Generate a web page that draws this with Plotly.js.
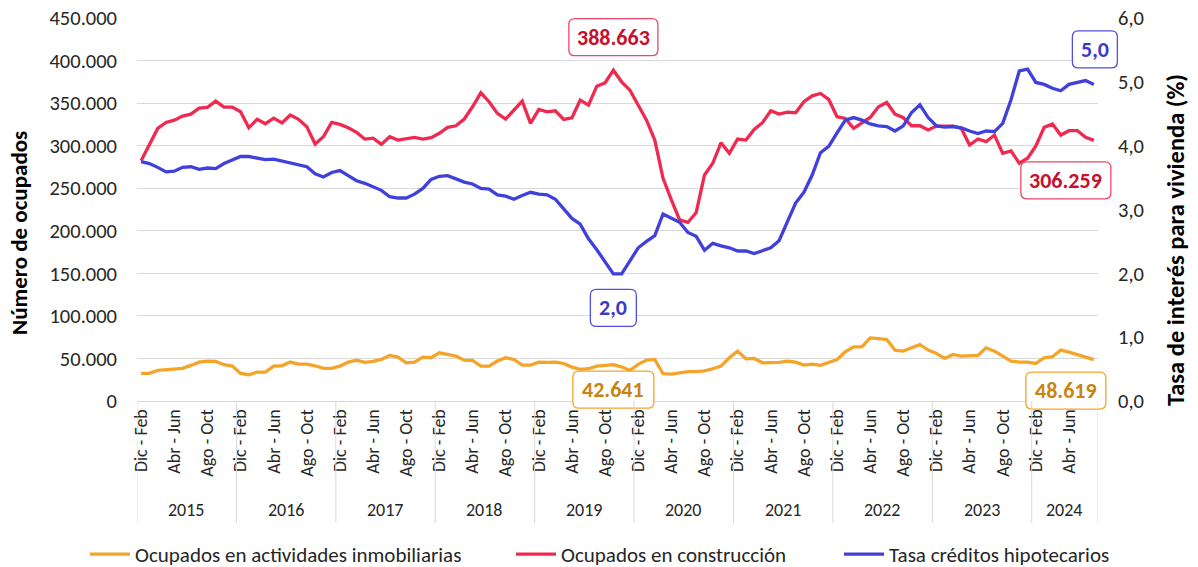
<!DOCTYPE html>
<html>
<head>
<meta charset="utf-8">
<script src="https://cdn.plot.ly/plotly-3.0.1.min.js"></script>
<style>html,body{margin:0;padding:0;background:#fff;}#chart{width:1198px;height:567px;}</style>
</head>
<body>
<div id="chart"></div>
<script>
// ---- Data ----
const monthLabels = ['Dic - Feb','Ene - Mar','Feb - Abr','Mar - May','Abr - Jun','May - Jul','Jun - Ago','Jul - Sep','Ago - Oct','Sep - Nov','Oct - Dic','Nov - Ene'];
const years = ['2015','2016','2017','2018','2019','2020','2021','2022','2023','2024'];
const monthsPerYear = [12,12,12,12,12,12,12,12,12,8];

const inmobiliarias = [
  32400, 32400, 35900, 36700, 37900, 38300, 41800, 45700, 46900, 46500, 42600, 41000,
  32400, 30900, 34000, 34000, 41000, 41400, 45700, 43400, 43400, 41400, 38300, 38300,
  41000, 45700, 48000, 45300, 46500, 48800, 53500, 51600, 44900, 45700, 51600, 50800,
  56600, 54700, 52700, 48000, 47700, 41000, 41000, 46900, 50800, 48800, 42200, 42200,
  45700, 45300, 45700, 44100, 39800, 37100, 37900, 41000, 41800, 42641, 40200, 35900,
  43000, 48000, 48800, 32000, 31600, 33200, 34400, 34400, 35500, 37900, 41000, 50800,
  58600, 49600, 50000, 44900, 45300, 45300, 46900, 45700, 42200, 43400, 41800, 45700,
  48800, 57800, 63700, 63700, 74200, 73400, 72300, 59800, 58600, 62500, 66400, 59800,
  55900, 50000, 54700, 52700, 52700, 53500, 62500, 58600, 52700, 46900, 45700, 45700,
  44100, 50800, 52000, 59800, 57400, 54700, 52000, 48619
];
const construccion = [
  282400, 301000, 320300, 327300, 330000, 334800, 337000, 344000, 345000, 352300, 345300, 345300,
  339800, 321000, 331000, 325800, 332400, 326600, 336000, 331000, 322300, 302000, 310500, 327300,
  325000, 321000, 315600, 307800, 308800, 301500, 310500, 306600, 307800, 309800, 307800, 309400,
  314500, 321500, 323400, 331300, 345700, 362100, 351600, 337900, 331300, 341800, 352300, 326200,
  342600, 339800, 341000, 330900, 332800, 353500, 347700, 369900, 373800, 388663, 375000, 365200,
  347700, 330000, 306600, 261700, 236300, 212900, 209800, 221500, 265600, 279300, 303500, 291000,
  307800, 306600, 319100, 327000, 341000, 337100, 339500, 338700, 351600, 358600, 361300, 354300,
  334000, 332000, 320300, 326200, 333200, 345700, 350800, 337100, 332800, 323400, 323400, 318400,
  323000, 323000, 323000, 320300, 300800, 307800, 304700, 312500, 291000, 293800, 279300, 285200,
  299600, 321500, 325400, 312500, 317600, 317600, 309800, 306259
];
const tasaHipotecaria = [
  3.75, 3.72, 3.66, 3.59, 3.60, 3.66, 3.67, 3.63, 3.65, 3.64, 3.72, 3.77,
  3.83, 3.83, 3.80, 3.78, 3.79, 3.76, 3.73, 3.71, 3.67, 3.56, 3.51, 3.58,
  3.61, 3.53, 3.45, 3.41, 3.35, 3.30, 3.20, 3.18, 3.18, 3.24, 3.33, 3.47,
  3.52, 3.53, 3.48, 3.43, 3.40, 3.33, 3.32, 3.23, 3.21, 3.16, 3.22, 3.27,
  3.24, 3.23, 3.16, 3.01, 2.86, 2.77, 2.54, 2.37, 2.17, 1.99, 1.99, 2.19,
  2.40, 2.50, 2.59, 2.93, 2.86, 2.80, 2.64, 2.58, 2.36, 2.47, 2.43, 2.40,
  2.35, 2.35, 2.31, 2.36, 2.40, 2.51, 2.81, 3.10, 3.27, 3.54, 3.89, 3.99,
  4.20, 4.40, 4.44, 4.40, 4.34, 4.31, 4.30, 4.23, 4.31, 4.52, 4.64, 4.44,
  4.31, 4.29, 4.30, 4.28, 4.23, 4.19, 4.23, 4.22, 4.35, 4.72, 5.17, 5.20,
  4.99, 4.96, 4.90, 4.86, 4.96, 4.99, 5.02, 4.96
];

// ---- Build category index ----
const xIdx = [], tickVals = [], tickText = [], yearStart = [];
let k = 0;
years.forEach((y, yi) => {
  yearStart.push(k);
  for (let m = 0; m < monthsPerYear[yi]; m++) {
    xIdx.push(k);
    if (m % 4 === 0) { tickVals.push(k); tickText.push(monthLabels[m]); }
    k++;
  }
});
const nCat = k;
const xRange = [-0.5, nCat - 0.5];
const yRange = [0, 450000];
const y2Range = [0, 6];

const FONT = 'Carlito, Calibri, Lato, sans-serif';
const cOrange = '#F5A42A', cRed = '#EF2A50', cBlue = '#4040DA';

const traces = [
  {x: xIdx, y: inmobiliarias, name: 'Ocupados en actividades inmobiliarias', type: 'scatter', mode: 'lines',
   line: {color: cOrange, width: 3.3}, yaxis: 'y', legend: 'legend'},
  {x: xIdx, y: construccion, name: 'Ocupados en construcción', type: 'scatter', mode: 'lines',
   line: {color: cRed, width: 3.3}, yaxis: 'y', legend: 'legend2'},
  {x: xIdx, y: tasaHipotecaria, name: 'Tasa créditos hipotecarios', type: 'scatter', mode: 'lines',
   line: {color: cBlue, width: 3.3}, yaxis: 'y2', legend: 'legend3'}
];

// helpers for labelled points
function argmax(a){let b=0;a.forEach((v,i)=>{if(v>a[b])b=i;});return b;}
function argmin(a){let b=0;a.forEach((v,i)=>{if(v<a[b])b=i;});return b;}
const fmtInt = v => Math.round(v).toString().replace(/\B(?=(\d{3})+(?!\d))/g, '.');
const fmtDec = v => v.toFixed(1).replace('.', ',');
const last = nCat - 1;
const iMaxC = argmax(construccion), iMinT = argmin(tasaHipotecaria);

const annotations = [];
const shapes = [];

function roundRect(cx, cy, w, h, r) {
  const x0 = cx - w / 2, x1 = cx + w / 2, y0 = cy - h / 2, y1 = cy + h / 2;
  return `M${x0 + r},${y0} L${x1 - r},${y0} Q${x1},${y0} ${x1},${y0 + r} L${x1},${y1 - r} Q${x1},${y1} ${x1 - r},${y1} ` +
         `L${x0 + r},${y1} Q${x0},${y1} ${x0},${y1 - r} L${x0},${y0 + r} Q${x0},${y0} ${x0 + r},${y0} Z`;
}
const toPaper = (v, r) => (v - r[0]) / (r[1] - r[0]);

function box(xi, yv, axis, txt, col, border, xs, ys, w) {
  const rng = axis === 'y2' ? y2Range : yRange;
  shapes.push({type: 'path', xref: 'paper', yref: 'paper', xsizemode: 'pixel', ysizemode: 'pixel',
    xanchor: toPaper(xi, xRange), yanchor: toPaper(yv, rng), path: roundRect(xs, ys, w, 37, 6), layer: 'above',
    fillcolor: '#ffffff', line: {color: border, width: 1.3}});
  annotations.push({x: xi, y: yv, xref: 'x', yref: axis, text: '<b>' + txt + '</b>', showarrow: false,
    xshift: xs, yshift: ys, font: {family: FONT, size: 22, color: col}});
}

box(iMaxC, construccion[iMaxC], 'y', fmtInt(construccion[iMaxC]), '#C8102E', '#F04664', 0, 33, 89);
box(iMinT, tasaHipotecaria[iMinT], 'y2', fmtDec(tasaHipotecaria[iMinT]), '#3B3BC8', '#5050E0', 0, -34, 46);
box(iMaxC, inmobiliarias[iMaxC], 'y', fmtInt(inmobiliarias[iMaxC]), '#C88412', '#F5A42A', 0, -25, 81);
box(last, tasaHipotecaria[last], 'y2', fmtDec(tasaHipotecaria[last]), '#3B3BC8', '#5050E0', 1, 35, 45);
box(last, construccion[last], 'y', fmtInt(construccion[last]), '#C8102E', '#F04664', -28, -40, 90);
box(last, inmobiliarias[last], 'y', fmtInt(inmobiliarias[last]), '#C88412', '#F5A42A', -28, -31, 80);

// year labels and separators
years.forEach((y, yi) => {
  const s = yearStart[yi], n = monthsPerYear[yi];
  annotations.push({x: s + (n - 1) / 2, y: -0.285, xref: 'x', yref: 'paper', text: y, showarrow: false,
    font: {family: FONT, size: 18, color: '#262626'}, yanchor: 'middle'});
  shapes.push({type: 'line', xref: 'x', yref: 'paper', x0: s - 0.5, x1: s - 0.5, y0: 0, y1: -0.318,
    line: {color: '#D9D9D9', width: 1}});
});
shapes.push({type: 'line', xref: 'x', yref: 'paper', x0: nCat - 0.5, x1: nCat - 0.5, y0: 0, y1: -0.318,
  line: {color: '#D9D9D9', width: 1}});

// axis titles (positioned as in the reference)
annotations.push({x: -0.1228, y: 0.4386, xref: 'paper', yref: 'paper', textangle: -90,
  text: '<b>Número de ocupados</b>', showarrow: false, xanchor: 'center', yanchor: 'middle',
  font: {family: FONT, size: 23, color: '#000000'}});
annotations.push({x: 1.0812, y: 0.4204, xref: 'paper', yref: 'paper', textangle: -90,
  text: '<b>Tasa de interés para vivienda (%)</b>', showarrow: false, xanchor: 'center', yanchor: 'middle',
  font: {family: FONT, size: 24.5, color: '#000000'}});

function legendAt(px) {
  return {orientation: 'h', x: px / 1198, xref: 'container', xanchor: 'left', y: 0.022, yref: 'container',
    yanchor: 'middle', font: {family: FONT, size: 21, color: '#262626'}, itemwidth: 40,
    bgcolor: 'rgba(0,0,0,0)', borderwidth: 0};
}

const layout = {
  width: 1198, height: 567,
  margin: {l: 137, r: 100, t: 18, b: 166, autoexpand: false},
  paper_bgcolor: '#ffffff', plot_bgcolor: '#ffffff',
  separators: ',.',
  font: {family: FONT, color: '#262626', size: 18},
  showlegend: true,
  legend: legendAt(85),
  legend2: legendAt(511),
  legend3: legendAt(839),
  xaxis: {range: xRange, tickmode: 'array', tickvals: tickVals, ticktext: tickText, automargin: false,
    tickangle: -90, showgrid: false, zeroline: false, showline: true, linecolor: '#D9D9D9', linewidth: 1,
    ticks: '', tickfont: {family: FONT, size: 18, color: '#262626'}, fixedrange: true},
  yaxis: {range: yRange, dtick: 50000, tickformat: ',.0f', showgrid: true, gridcolor: '#D9D9D9', automargin: false,
    gridwidth: 1, zeroline: false, showline: false, ticks: '', ticklabelstandoff: 19,
    tickfont: {family: FONT, size: 20.5, color: '#262626'}},
  yaxis2: {range: y2Range, dtick: 1, tickformat: '.1f', overlaying: 'y', side: 'right', showgrid: false, automargin: false,
    zeroline: false, showline: false, ticks: '', ticklabelstandoff: 19,
    tickfont: {family: FONT, size: 20.5, color: '#262626'}},
  annotations: annotations,
  shapes: shapes
};

Plotly.newPlot('chart', traces, layout, {displayModeBar: false, staticPlot: true});
</script>
</body>
</html>
